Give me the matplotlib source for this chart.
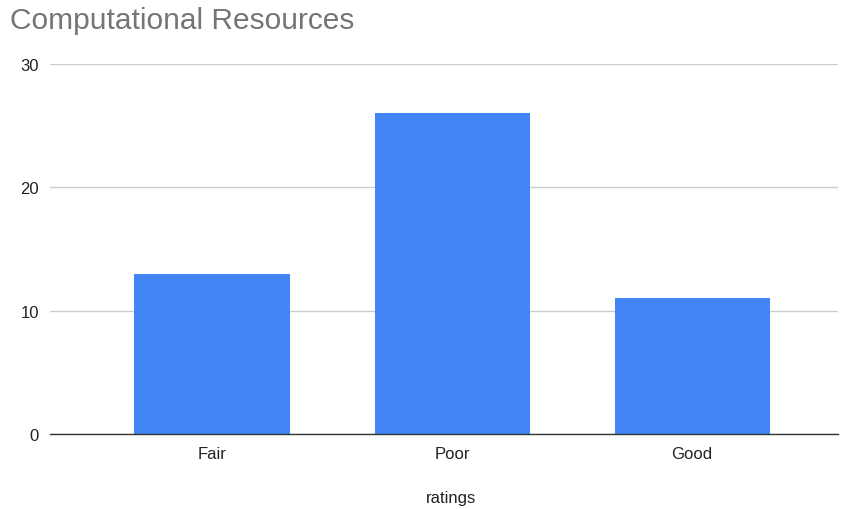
import matplotlib
matplotlib.use("Agg")
import matplotlib.pyplot as plt

categories = ["Fair", "Poor", "Good"]
counts = [13, 26, 11]
y_ticks = [0, 10, 20, 30]

plt.rcParams["font.family"] = ["Liberation Sans", "DejaVu Sans"]

fig = plt.figure(figsize=(8.48, 5.10), dpi=100)
ax = fig.add_axes([50 / 848, 1 - 435 / 510, 788 / 848, 370 / 510])

x = list(range(len(categories)))
ax.bar(x, counts, width=0.646, color="#4285F4", zorder=3)

ax.set_xlim(-0.675, 2.608)
ax.set_ylim(0, 30)
ax.set_yticks(y_ticks)
ax.set_xticks(x)
ax.set_xticklabels(categories)

ax.grid(axis="y", color="#cccccc", linewidth=1.0, zorder=0)
ax.grid(axis="x", visible=False)
for side in ("top", "right", "left"):
    ax.spines[side].set_visible(False)
ax.spines["bottom"].set_color("#333333")
ax.spines["bottom"].set_linewidth(1.0)
ax.spines["bottom"].set_zorder(4)

ax.tick_params(axis="both", length=0, labelsize=12, labelcolor="#222222")
ax.tick_params(axis="y", pad=8)
ax.tick_params(axis="x", pad=9)

ax.set_xlabel("ratings", fontsize=12, color="#222222")
ax.xaxis.set_label_coords(0.509, -0.151)

fig.text(10 / 848, 1 - 21 / 510, "Computational Resources", fontsize=21.5,
         color="#757575", ha="left", va="center")

fig.savefig("out.png", dpi=100)
